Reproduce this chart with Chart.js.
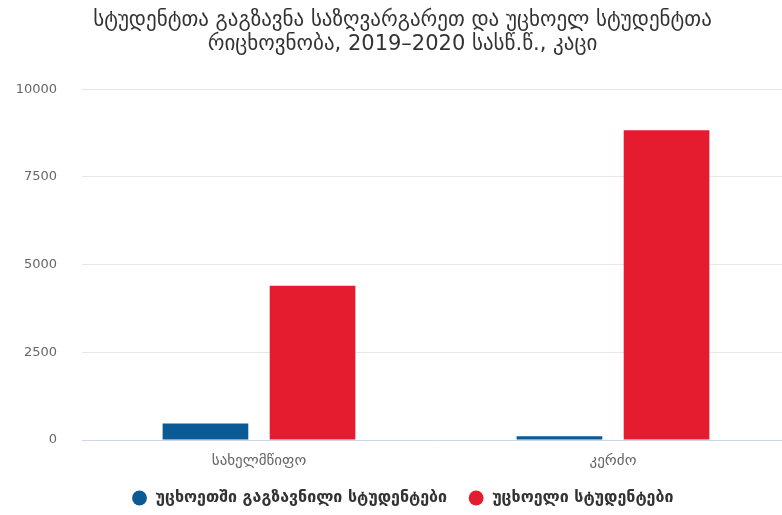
<!DOCTYPE html>
<html>
<head>
<meta charset="utf-8">
<script src="https://cdn.jsdelivr.net/npm/chart.js@4"></script>
<style>
  html, body { margin: 0; padding: 0; background: #fff; overflow: hidden; }
  #wrap { width: 812px; height: 515px; }
</style>
</head>
<body>
<div id="wrap"><canvas id="c" width="812" height="515"></canvas></div>
<script>
// University types
const categories = ['სახელმწიფო', 'კერძო'];
// Students sent abroad
const sentAbroad = [470, 110];
// Foreign students
const foreignStudents = [4400, 8830];
const seriesNames = ['უცხოეთში გაგზავნილი სტუდენტები', 'უცხოელი სტუდენტები'];
const yTicks = [0, 2500, 5000, 7500, 10000];
const titleLines = [
  'სტუდენტთა გაგზავნა საზღვარგარეთ და უცხოელ სტუდენტთა',
  'რიცხოვნობა, 2019–2020 სასწ.წ., კაცი'
];

const FONT = "'DejaVu Sans', 'Open Sans', sans-serif";

new Chart(document.getElementById('c'), {
  type: 'bar',
  data: {
    labels: categories,
    datasets: [
      { label: seriesNames[0], data: sentAbroad, backgroundColor: '#0b5a95' },
      { label: seriesNames[1], data: foreignStudents, backgroundColor: '#e51b2f' }
    ]
  },
  options: {
    responsive: false,
    animation: false,
    layout: { padding: { left: 15, right: 22, top: 0, bottom: -1 } },
    datasets: { bar: { categoryPercentage: 0.605, barPercentage: 0.8 } },
    plugins: {
      title: {
        display: true,
        text: titleLines,
        color: '#333333',
        font: { family: FONT, size: 21, weight: 'normal', lineHeight: 1.15 },
        padding: { top: 8, bottom: 33 }
      },
      legend: {
        position: 'bottom',
        labels: {
          usePointStyle: true,
          pointStyle: 'circle',
          boxWidth: 16,
          boxHeight: 10.5,
          padding: 21,
          color: '#333333',
          font: { family: FONT, size: 16, weight: 'bold' }
        }
      },
      tooltip: { enabled: false }
    },
    scales: {
      x: {
        grid: { display: false, drawTicks: false },
        border: { display: true, color: '#ccd6eb' },
        afterFit: axis => { axis.height = 29; },
        ticks: { color: '#666666', padding: 12, font: { family: FONT, size: 15 } }
      },
      y: {
        min: 0,
        max: 10000,
        afterBuildTicks: axis => { axis.ticks = yTicks.map(v => ({ value: v })); },
        afterFit: axis => { axis.width = 67; },
        grid: { color: '#e6e6e6', drawTicks: false },
        border: { display: false },
        ticks: {
          color: '#666666',
          padding: 25,
          font: { family: FONT, size: 13 },
          callback: v => String(v)
        }
      }
    }
  }
});
</script>
</body>
</html>
